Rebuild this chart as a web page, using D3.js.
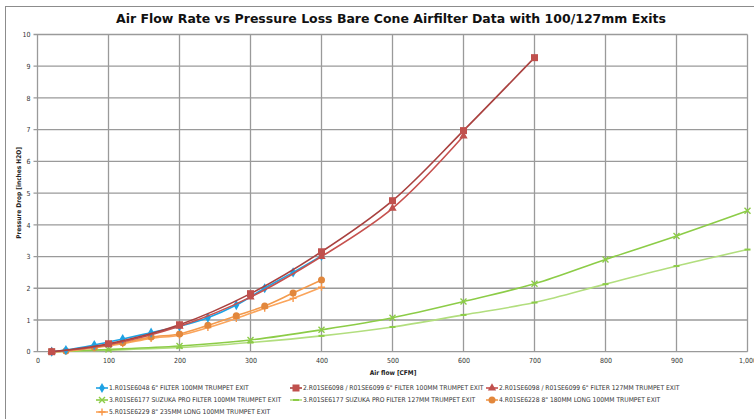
<!DOCTYPE html>
<html>
<head>
<meta charset="utf-8">
<script src="https://cdn.jsdelivr.net/npm/d3@7"></script>
<style>
  body { margin: 0; background: #fff; }
  svg { display: block; font-family: "DejaVu Sans Condensed", "Liberation Sans Narrow", sans-serif; }
</style>
</head>
<body>
<div class="visHolder"></div>
<script>
const w = 754;
const h = 419;

// data (airflow CFM -> pressure drop inches H2O)
const titleText = 'Air Flow Rate vs Pressure Loss Bare Cone Airfilter Data with 100/127mm Exits';
const xTicks = [0, 100, 200, 300, 400, 500, 600, 700, 800, 900, 1000];
const yTicks = [0, 1, 2, 3, 4, 5, 6, 7, 8, 9, 10];

const s1x = [20, 40, 80, 120, 160, 200, 240, 280, 320, 360, 400];
const s1y = [0, 0.05, 0.21, 0.4, 0.6, 0.8, 1.07, 1.47, 2.0, 2.5, 3.02];
const s2x = [20, 100, 200, 300, 400, 500, 600, 700];
const s2y = [0, 0.25, 0.85, 1.83, 3.15, 4.76, 6.97, 9.27];
const s2bx = [20, 100, 200, 300, 400, 500, 600];
const s2by = [0, 0.22, 0.8, 1.72, 3.0, 4.52, 6.8];
const s3x = [20, 100, 200, 300, 400, 500, 600, 700, 800, 900, 1000];
const s3y = [0, 0.07, 0.18, 0.37, 0.69, 1.07, 1.58, 2.14, 2.91, 3.65, 4.44];
const s3by = [0, 0.05, 0.13, 0.29, 0.5, 0.78, 1.16, 1.55, 2.13, 2.7, 3.22];
const s4x = [20, 40, 80, 120, 160, 200, 240, 280, 320, 360, 400];
const s4y = [0, 0.02, 0.14, 0.28, 0.46, 0.56, 0.83, 1.13, 1.44, 1.85, 2.26];
const s5y = [0, 0.02, 0.12, 0.25, 0.42, 0.52, 0.76, 1.05, 1.37, 1.68, 2.03];

const seriesNames = [
  '1.R01SE6048 6" FILTER 100MM TRUMPET EXIT',
  '2.R01SE6098 / R01SE6099 6" FILTER 100MM TRUMPET EXIT',
  '2.R01SE6098 / R01SE6099 6" FILTER 127MM TRUMPET EXIT',
  '3.R01SE6177 SUZUKA PRO FILTER 100MM TRUMPET EXIT',
  '3.R01SE6177 SUZUKA PRO FILTER 127MM TRUMPET EXIT',
  '4.R01SE6228 8" 180MM LONG 100MM TRUMPET EXIT',
  '5.R01SE6229 8" 235MM LONG 100MM TRUMPET EXIT'
];

const zip = (xs, ys) => xs.map((x, i) => ({ x: x, y: ys[i] }));

const series = [
  { name: seriesNames[0], pts: zip(s1x, s1y), line: '#1ea2e4', fill: '#1ea2e4', shape: 'diamond' },
  { name: seriesNames[1], pts: zip(s2x, s2y), line: '#a9413f', fill: '#c0504d', shape: 'square' },
  { name: seriesNames[2], pts: zip(s2bx, s2by), line: '#c6514e', fill: '#c0504d', shape: 'triangle' },
  { name: seriesNames[3], pts: zip(s3x, s3y), line: '#8ccc47', fill: '#8ccc47', shape: 'x' },
  { name: seriesNames[4], pts: zip(s3x, s3by), line: '#b2de7e', fill: '#8ccc47', shape: 'dash' },
  { name: seriesNames[5], pts: zip(s4x, s4y), line: '#f39a4c', fill: '#e2873c', shape: 'circle' },
  { name: seriesNames[6], pts: zip(s4x, s5y), line: '#fba55c', fill: '#f8984a', shape: 'plus' }
];

const svg = d3.select('.visHolder')
  .append('svg')
  .attr('width', w)
  .attr('height', h);

svg.append('rect')
  .attr('width', w).attr('height', h)
  .attr('fill', '#fff');

// outer chart border
svg.append('rect')
  .attr('x', 5.5).attr('y', 6.5)
  .attr('width', w + 20).attr('height', h + 20)
  .attr('fill', 'none')
  .attr('stroke', '#8c8c8c')
  .attr('stroke-width', 1);

svg.append('text')
  .attr('x', 391)
  .attr('y', 23)
  .attr('text-anchor', 'middle')
  .style('font-size', '13px')
  .style('font-weight', 'bold')
  .attr('textLength', 550)
  .attr('lengthAdjust', 'spacingAndGlyphs')
  .attr('fill', '#111')
  .text(titleText);

const xScale = d3.scaleLinear().domain([0, 1000]).range([37.5, 747.5]);
const yScale = d3.scaleLinear().domain([0, 10]).range([351.7, 34.5]);

// grid
svg.append('g')
  .selectAll('line')
  .data(xTicks)
  .enter()
  .append('line')
  .attr('x1', d => xScale(d)).attr('x2', d => xScale(d))
  .attr('y1', yScale(10)).attr('y2', yScale(0))
  .attr('stroke', '#9a9a9a')
  .attr('stroke-width', 1.3);

svg.append('g')
  .selectAll('line')
  .data(yTicks)
  .enter()
  .append('line')
  .attr('x1', xScale(0) - 4).attr('x2', xScale(1000))
  .attr('y1', d => yScale(d)).attr('y2', d => yScale(d))
  .attr('stroke', '#9a9a9a')
  .attr('stroke-width', 1.3);

const yAxis = d3.axisLeft(yScale).tickValues(yTicks).tickSize(0).tickPadding(7);
svg.append('g')
  .attr('transform', 'translate(' + xScale(0) + ',0)')
  .call(yAxis)
  .call(g => g.select('.domain').remove())
  .selectAll('text')
  .style('font-size', '7px')
  .style('font-family', '"DejaVu Sans Condensed", sans-serif')
  .attr('fill', '#333');

const xAxis = d3.axisBottom(xScale).tickValues(xTicks).tickSize(0).tickPadding(6);
svg.append('g')
  .attr('transform', 'translate(0,' + yScale(0) + ')')
  .call(xAxis)
  .call(g => g.select('.domain').remove())
  .selectAll('text')
  .style('font-size', '7px')
  .style('font-family', '"DejaVu Sans Condensed", sans-serif')
  .attr('fill', '#333');

svg.append('text')
  .attr('transform', 'rotate(-90)')
  .attr('x', -193)
  .attr('y', 21)
  .attr('text-anchor', 'middle')
  .style('font-size', '6.5px')
  .style('font-weight', 'bold')
  .attr('fill', '#222')
  .text('Pressure Drop [inches H2O]');

svg.append('text')
  .attr('x', 393)
  .attr('y', 375)
  .attr('text-anchor', 'middle')
  .style('font-size', '6.5px')
  .style('font-weight', 'bold')
  .attr('fill', '#222')
  .text('Air flow [CFM]');

// markers
function drawMarker(g, shape, color) {
  if (shape === 'diamond') {
    g.append('path').attr('d', d3.symbol(d3.symbolDiamond, 30)()).attr('fill', color);
  } else if (shape === 'square') {
    g.append('rect').attr('x', -3.5).attr('y', -3.5).attr('width', 7).attr('height', 7).attr('fill', color);
  } else if (shape === 'triangle') {
    g.append('path').attr('d', d3.symbol(d3.symbolTriangle, 30)()).attr('fill', color);
  } else if (shape === 'x') {
    g.append('path').attr('d', 'M-3,-3L3,3M-3,3L3,-3').attr('stroke', color).attr('stroke-width', 1.4);
  } else if (shape === 'dash') {
    g.append('rect').attr('x', -3).attr('y', -1).attr('width', 6).attr('height', 2).attr('fill', color);
  } else if (shape === 'circle') {
    g.append('circle').attr('r', 3.5).attr('fill', color);
  } else if (shape === 'plus') {
    g.append('path').attr('d', 'M-3.5,0L3.5,0M0,-3.5L0,3.5').attr('stroke', color).attr('stroke-width', 1.4);
  }
}

const line = d3.line()
  .x(d => xScale(d.x))
  .y(d => yScale(d.y))
  .curve(d3.curveCatmullRom.alpha(0.5));

// draw back to front so the reds end up over the blue like the original
const order = [4, 3, 6, 5, 0, 2, 1];
order.forEach(i => {
  const s = series[i];
  const g = svg.append('g');
  g.append('path')
    .datum(s.pts)
    .attr('d', line)
    .attr('fill', 'none')
    .attr('stroke', s.line)
    .attr('stroke-width', 1.6);
  s.pts.forEach(p => {
    const m = g.append('g').attr('transform', 'translate(' + xScale(p.x) + ',' + yScale(p.y) + ')');
    drawMarker(m, s.shape, s.fill);
  });
});

// legend, three per row
const legendCols = [96, 290, 486];
const legendRows = [388, 400, 412];
const legend = svg.append('g').attr('id', 'legend');
series.forEach((s, i) => {
  const lx = legendCols[i % 3];
  const ly = legendRows[Math.floor(i / 3)];
  const item = legend.append('g').attr('transform', 'translate(' + lx + ',' + ly + ')');
  item.append('line')
    .attr('x1', 0).attr('x2', 12)
    .attr('stroke', s.line)
    .attr('stroke-width', 1.6);
  const m = item.append('g').attr('transform', 'translate(6,0)');
  drawMarker(m, s.shape, s.fill);
  item.append('text')
    .attr('x', 13)
    .attr('dy', '0.35em')
    .style('font-size', '6.7px')
    .attr('fill', '#333')
    .text(s.name);
});
</script>
</body>
</html>
